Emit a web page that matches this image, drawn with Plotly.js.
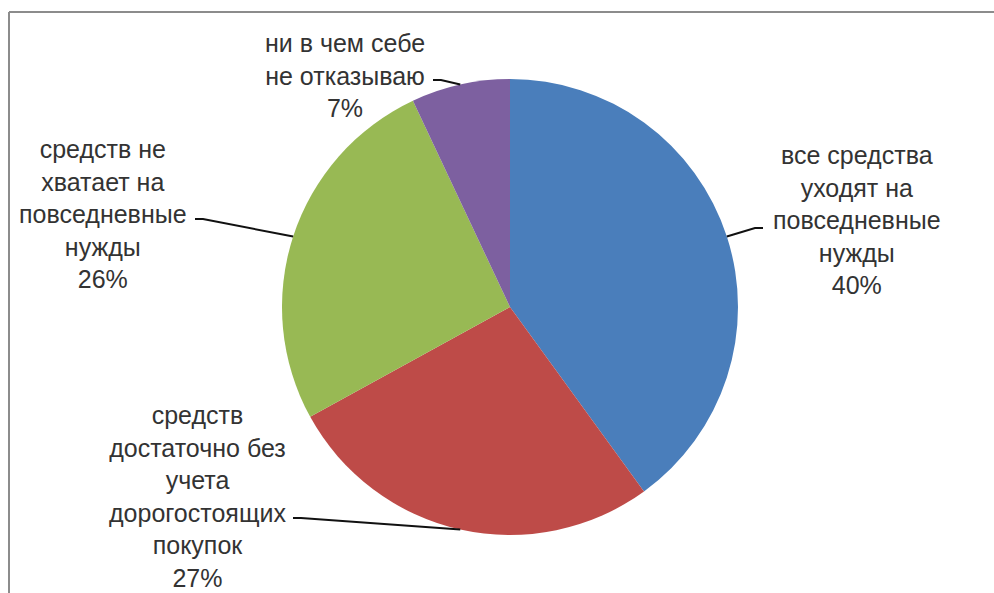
<!DOCTYPE html>
<html>
<head>
<meta charset="utf-8">
<script src="https://cdn.plot.ly/plotly-3.0.1.min.js"></script>
<style>html,body{margin:0;padding:0;background:#fff;}#chart{width:994px;height:593px;}</style>
</head>
<body>
<div id="chart"></div>
<script>
const categories = [
  "все средства<br>уходят на<br>повседневные<br>нужды",
  "средств<br>достаточно без<br>учета<br>дорогостоящих<br>покупок",
  "средств не<br>хватает на<br>повседневные<br>нужды",
  "ни в чем себе<br>не отказываю"
];
const values = [40, 27, 26, 7];
const percentLabels = ["40%", "27%", "26%", "7%"];
const colors = ["#4A7EBB", "#BE4B48", "#98B954", "#7D60A0"];

const W = 994, H = 593;
// pie placement (pixels)
const cx = 510, cy = 307, R = 228;
const px2x = p => p / W;
const py2y = p => 1 - p / H;

// label centers and leader-line text ends (pixels)
const labelPos = [
  {x: 857, y: 220, tx: 763, ty: 228},
  {x: 197, y: 496, tx: 293, ty: 518},
  {x: 103, y: 214, tx: 195, ty: 219},
  {x: 345, y: 75,  tx: 433, ty: 80}
];

const total = values.reduce((a, b) => a + b, 0);
let cum = 0;
const annotations = [];
const shapes = [];
values.forEach((v, i) => {
  const mid = (cum + v / 2) / total * 2 * Math.PI;
  cum += v;
  const ex = cx + R * Math.sin(mid);
  const ey = cy - R * Math.cos(mid);
  const lp = labelPos[i];
  annotations.push({
    x: px2x(lp.x), y: py2y(lp.y), xref: 'paper', yref: 'paper',
    text: categories[i] + '<br>' + percentLabels[i],
    showarrow: false, align: 'center', xanchor: 'center', yanchor: 'middle',
    font: {family: 'Liberation Sans, Arial, sans-serif', size: 25, color: '#333333'}
  });
  const hx = lp.tx < ex ? lp.tx + 8 : lp.tx - 8;
  shapes.push({
    type: 'path', xref: 'paper', yref: 'paper',
    path: `M ${px2x(ex)} ${py2y(ey)} L ${px2x(hx)} ${py2y(lp.ty)} L ${px2x(lp.tx)} ${py2y(lp.ty)}`,
    line: {color: '#111', width: 2}
  });
});
// chart border (top and left)
shapes.push({type: 'line', xref: 'paper', yref: 'paper', x0: px2x(9), y0: py2y(12), x1: 1, y1: py2y(12), line: {color: '#8c8c8c', width: 2}});
shapes.push({type: 'line', xref: 'paper', yref: 'paper', x0: px2x(9), y0: py2y(12), x1: px2x(9), y1: 0, line: {color: '#8c8c8c', width: 2}});

const trace = {
  type: 'pie',
  labels: categories,
  values: values,
  sort: false,
  direction: 'clockwise',
  rotation: 0,
  textinfo: 'none',
  hoverinfo: 'none',
  marker: {colors: colors, line: {width: 0}},
  domain: {x: [px2x(cx - R), px2x(cx + R)], y: [py2y(cy + R), py2y(cy - R)]}
};

Plotly.newPlot('chart', [trace], {
  width: W, height: H,
  margin: {l: 0, r: 0, t: 0, b: 0},
  showlegend: false,
  paper_bgcolor: '#fff',
  annotations: annotations,
  shapes: shapes
}, {displayModeBar: false, staticPlot: true});
</script>
</body>
</html>
